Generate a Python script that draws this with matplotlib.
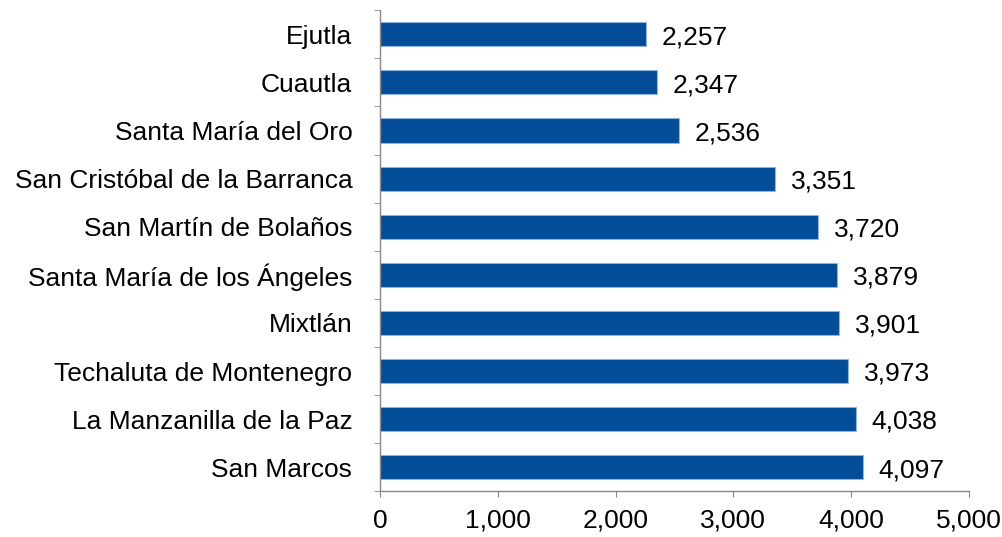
import matplotlib as mpl
mpl.use('Agg')
import matplotlib.pyplot as plt
import numpy as np

# municipios, de arriba hacia abajo
municipios = ["Ejutla", "Cuautla", "Santa María del Oro",
              "San Cristóbal de la Barranca", "San Martín de Bolaños",
              "Santa María de los Ángeles", "Mixtlán",
              "Techaluta de Montenegro", "La Manzanilla de la Paz",
              "San Marcos"]
valores = [2257, 2347, 2536, 3351, 3720, 3879, 3901, 3973, 4038, 4097]
xticks = [0, 1000, 2000, 3000, 4000, 5000]

plt.rcParams['font.family'] = ['Liberation Sans', 'DejaVu Sans']
fs = 19

fig = plt.figure(figsize=(10.03, 5.37), dpi=100)
ax = fig.add_axes([0.379, 0.085, 0.587, 0.896])

y = np.arange(len(municipios))
ax.barh(y, valores, height=0.5, color='#034C98', edgecolor='#8FB4E0', linewidth=0.8)
ax.set_ylim(len(municipios) - 0.5, -0.5)
ax.set_xlim(0, 5000)

ax.set_yticks(y)
ax.set_yticklabels(municipios, fontsize=fs)
ax.set_yticks(np.arange(-0.5, len(municipios) + 0.5, 1), minor=True)
ax.tick_params(axis='y', which='major', length=0, pad=20)
ax.tick_params(axis='y', which='minor', length=4.5, color='#888888', direction='out')

ax.set_xticks(xticks)
ax.set_xticklabels([f"{v:,}" for v in xticks], fontsize=fs)
ax.tick_params(axis='x', length=4.5, color='#888888', direction='out', pad=8)

for s in ['top', 'right']:
    ax.spines[s].set_visible(False)
for s in ['left', 'bottom']:
    ax.spines[s].set_color('#888888')
    ax.spines[s].set_linewidth(1)

for yi, v in zip(y, valores):
    ax.annotate(f"{v:,}", (v, yi), xytext=(11.5, -2), textcoords='offset points',
                va='center', ha='left', fontsize=fs)

fig.savefig("out.png", dpi=100)
